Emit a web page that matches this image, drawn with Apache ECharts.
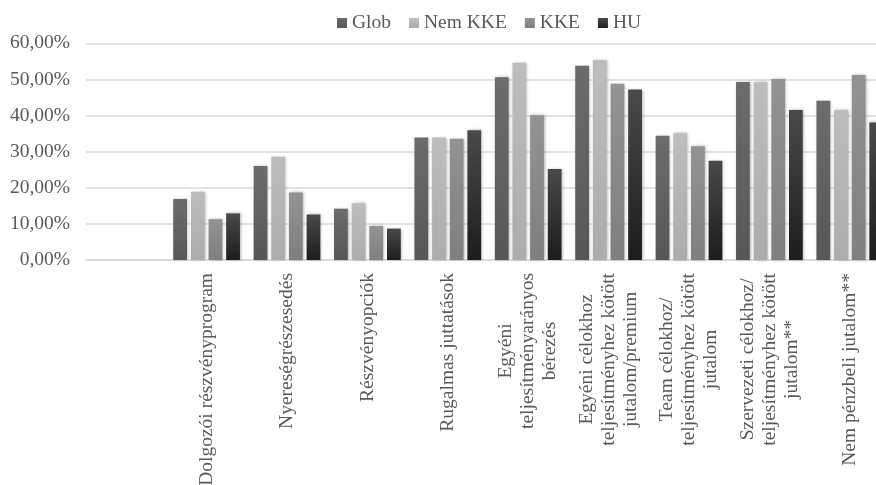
<!DOCTYPE html>
<html>
<head>
<meta charset="utf-8">
<script src="https://cdn.jsdelivr.net/npm/echarts@6/dist/echarts.min.js"></script>
<style>
  html, body { margin: 0; padding: 0; background: #ffffff; }
  #chart { width: 876px; height: 485px; }
</style>
</head>
<body>
<div id="chart"></div>
<script>
// Categories (the first slot is intentionally left empty)
const categories = [
  '',
  'Dolgozói részvényprogram',
  'Nyereségrészesedés',
  'Részvényopciók',
  'Rugalmas juttatások',
  'Egyéni\nteljesítményarányos\nbérezés',
  'Egyéni célokhoz\nteljesítményhez kötött\njutalom/premium',
  'Team célokhoz/\nteljesítményhez kötött\njutalom',
  'Szervezeti célokhoz/\nteljesítményhez kötött\njutalom**',
  'Nem pénzbeli jutalom**'
];

const seriesNames = ['Glob', 'Nem KKE', 'KKE', 'HU'];

// Shares in percent
const globValues   = [null, 16.9, 26.0, 14.2, 33.9, 50.6, 53.8, 34.4, 49.3, 44.1];
const nemKkeValues = [null, 18.9, 28.6, 15.7, 33.9, 54.6, 55.4, 35.1, 49.2, 41.5];
const kkeValues    = [null, 11.3, 18.7,  9.4, 33.6, 40.1, 48.8, 31.5, 50.1, 51.2];
const huValues     = [null, 12.9, 12.6,  8.7, 35.9, 25.2, 47.2, 27.5, 41.5, 38.1];

const yTicks = { min: 0, max: 60, interval: 10 };

const FONT = 'Liberation Serif';
const TEXT_COLOR = '#595959';

function grad(top, bottom) {
  return new echarts.graphic.LinearGradient(0, 0, 0, 1, [
    { offset: 0, color: top },
    { offset: 1, color: bottom }
  ]);
}

const palette = [
  grad('#6c6c6c', '#575757'),
  grad('#bdbdbd', '#acacac'),
  grad('#939393', '#7f7f7f'),
  grad('#4a4a4a', '#1c1c1c')
];

const allValues = [globValues, nemKkeValues, kkeValues, huValues];

const chart = echarts.init(document.getElementById('chart'), null, { renderer: 'canvas' });

chart.setOption({
  animation: false,
  backgroundColor: '#ffffff',
  textStyle: { fontFamily: FONT },
  legend: {
    data: seriesNames,
    left: 332,
    top: 8,
    icon: 'rect',
    itemWidth: 10,
    itemHeight: 10,
    itemGap: 18,
    textStyle: { fontFamily: FONT, fontSize: 19.5, color: TEXT_COLOR }
  },
  grid: {
    left: 86,
    right: -14,
    top: 43.3,
    bottom: 225,
    containLabel: false,
    outerBoundsMode: 'none'
  },
  xAxis: {
    type: 'category',
    data: categories,
    axisTick: { show: false },
    axisLine: { lineStyle: { color: '#d9d9d9', width: 1.5 } },
    axisLabel: {
      interval: 0,
      rotate: 90,
      margin: 13,
      fontFamily: FONT,
      fontSize: 19.5,
      color: TEXT_COLOR,
      lineHeight: 22,
      formatter: function (v) {
        if (!v) return '';
        return v.split('\n').map(function (l) { return '{c|' + l + '}'; }).join('\n');
      },
      rich: {
        c: { align: 'center', fontFamily: FONT, fontSize: 19.5, color: TEXT_COLOR, lineHeight: 22 }
      }
    }
  },
  yAxis: {
    type: 'value',
    min: yTicks.min,
    max: yTicks.max,
    interval: yTicks.interval,
    axisLine: { show: false },
    axisTick: { show: false },
    splitLine: { lineStyle: { color: '#d9d9d9', width: 1.5 } },
    axisLabel: {
      margin: 16,
      fontFamily: FONT,
      fontSize: 19.5,
      color: TEXT_COLOR,
      formatter: function (v) { return v.toFixed(2).replace('.', ',') + '%'; }
    }
  },
  series: seriesNames.map(function (name, i) {
    return {
      name: name,
      type: 'bar',
      data: allValues[i],
      barGap: '28%',
      barCategoryGap: '17%',
      itemStyle: {
        color: palette[i],
        shadowBlur: 3,
        shadowColor: 'rgba(0,0,0,0.3)',
        shadowOffsetX: 1,
        shadowOffsetY: 0
      }
    };
  })
});
</script>
</body>
</html>
